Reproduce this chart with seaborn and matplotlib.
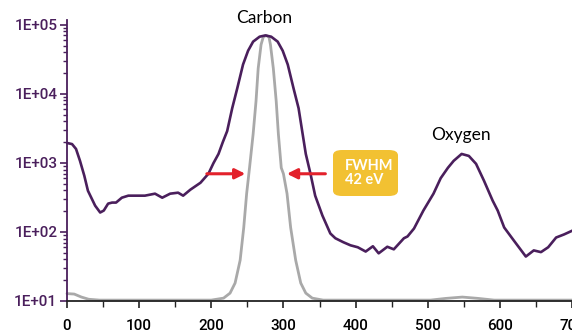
import numpy as np
import pandas as pd
import matplotlib
matplotlib.use("Agg")
import matplotlib.pyplot as plt
from matplotlib.patches import FancyBboxPatch
import seaborn as sns

# ---- data ----
purple_x = [0, 7, 12.5, 18, 24, 29, 39, 46, 51, 57, 62.5, 68, 76, 85, 94, 108, 122, 132,
            143, 154, 161, 171, 185, 196, 203, 210, 216, 222, 229, 236, 244, 251, 258,
            267, 275, 283, 292, 299, 306, 314, 321, 326, 331, 337.5, 344, 354, 365, 372,
            383, 393, 403, 414, 424, 432, 444, 453, 467, 472, 481, 494, 508, 518, 528,
            536, 547, 557, 567, 578, 590, 597, 606, 619, 636, 647, 657, 667, 678, 689, 701]
purple_y = [1940, 1870, 1590, 1070, 650, 395, 240, 191, 204, 257, 266, 266, 313, 335, 335,
            335, 358, 313, 358, 370, 335, 409, 515, 695, 990, 1346, 2000, 2880, 6180, 12000,
            26500, 42000, 56900, 67100, 70000, 67100, 56900, 42000, 26500, 12000, 6180, 2880,
            1346, 695, 335, 173, 95, 81, 71, 64, 60, 52, 62, 49, 61, 56, 81, 86, 112, 204,
            358, 600, 848, 1070, 1346, 1260, 968, 551, 284, 204, 116, 76, 44, 54, 51, 60, 83,
            92, 105]

gray_x = [0, 10, 20, 30, 45, 100, 200, 217, 226, 233, 240, 245, 249, 253, 258, 262, 265,
          269, 272, 276, 280, 282, 286, 290, 293, 297, 300, 305, 310, 317, 324, 331, 340,
          355, 450, 504, 525, 548, 570, 592, 700]
gray_y = [12.8, 12.6, 11.4, 10.6, 10.3, 10.3, 10.3, 11.0, 13.0, 18.2, 38.9, 116, 358, 848,
          2610, 7800, 23300, 51500, 66000, 70000, 66000, 51500, 23300, 7800, 2610, 848, 695,
          358, 116, 38.9, 18.2, 13.0, 11.0, 10.3, 10.3, 10.3, 10.9, 11.4, 10.9, 10.3, 10.3]

y_ticks = [10, 100, 1000, 10000, 100000]
y_tick_labels = ["1E+01", "1E+02", "1E+03", "1E+04", "1E+05"]
x_ticks = [0, 100, 200, 300, 400, 500, 600, 700]
peak_labels = ["Carbon", "Oxygen"]
peak_label_x = [274, 546]
peak_label_y = [1.25e5, 2.5e3]
fwhm_text = "FWHM\n42 eV"

PURPLE = "#4A1F5C"
GRAY = "#A9A9A9"
RED = "#E3212B"
YELLOW = "#F2C132"

sns.set_style("white")
plt.rcParams["font.family"] = ["Roboto", "DejaVu Sans"]

fig = plt.figure(figsize=(5.72, 3.32), dpi=100)
ax = fig.add_axes([67 / 572, 1 - 301 / 332, 1 - 67 / 572, (301 - 20) / 332])

df_p = pd.DataFrame({"x": purple_x, "y": purple_y})
df_g = pd.DataFrame({"x": gray_x, "y": gray_y})
sns.lineplot(data=df_g, x="x", y="y", ax=ax, color=GRAY, lw=2.0, clip_on=False, zorder=2)
sns.lineplot(data=df_p, x="x", y="y", ax=ax, color=PURPLE, lw=1.9, clip_on=False, zorder=3)
for ln in ax.lines:
    ln.set_solid_joinstyle("round")

ax.set_yscale("log")
ax.set_ylim(10, 1.17e5)
ax.set_xlim(0, 700)
ax.set_xlabel("")
ax.set_ylabel("")

ax.set_yticks(y_ticks)
ax.set_yticklabels(y_tick_labels)
ax.set_xticks(x_ticks)
ax.set_xticklabels([str(v) for v in x_ticks])
ax.xaxis.set_minor_locator(matplotlib.ticker.MultipleLocator(50))
ax.yaxis.set_minor_locator(matplotlib.ticker.LogLocator(base=10, subs=np.arange(2, 10)))
ax.yaxis.set_minor_formatter(matplotlib.ticker.NullFormatter())

for s in ["top", "right"]:
    ax.spines[s].set_visible(False)
ax.spines["left"].set_color(PURPLE)
ax.spines["left"].set_linewidth(1.3)
ax.spines["bottom"].set_color("#222222")
ax.spines["bottom"].set_linewidth(1.3)

ax.tick_params(axis="y", which="major", direction="out", length=5, width=1.2,
               color=PURPLE, labelcolor=PURPLE, labelsize=11, pad=2, left=True)
ax.tick_params(axis="y", which="minor", direction="out", length=3, width=1.0,
               color=PURPLE, left=True)
ax.tick_params(axis="x", which="major", direction="out", length=5, width=1.2,
               color="#222222", labelcolor="black", labelsize=11, pad=8, bottom=True)
ax.tick_params(axis="x", which="minor", direction="out", length=4, width=1.0,
               color="#222222", bottom=True)
for lab in ax.get_yticklabels() + ax.get_xticklabels():
    lab.set_fontweight("medium")

for t, xx, yy in zip(peak_labels, peak_label_x, peak_label_y):
    ax.text(xx, yy, t, ha="center", va="center", fontsize=12.5, color="black",
            family=["Lato", "DejaVu Sans"])

# FWHM arrows
ax.annotate("", xy=(251, 695), xytext=(190, 695),
            arrowprops=dict(arrowstyle="-|>,head_length=0.6,head_width=0.3", color=RED, lw=2.2),
            annotation_clip=False)
ax.annotate("", xy=(301, 695), xytext=(362, 695),
            arrowprops=dict(arrowstyle="-|>,head_length=0.6,head_width=0.3", color=RED, lw=2.2),
            annotation_clip=False)

# FWHM box
box = FancyBboxPatch((333 / 572, 1 - 196 / 332), (398 - 333) / 572, (196 - 150) / 332,
                     boxstyle="round,pad=0,rounding_size=0.016", transform=fig.transFigure,
                     facecolor=YELLOW, edgecolor="none", zorder=4)
fig.patches.append(box)
fig.text(345 / 572, 1 - 173 / 332, fwhm_text, ha="left", va="center", color="white",
         fontsize=10.5, fontweight="bold", linespacing=1.05, zorder=5,
         family=["Lato", "DejaVu Sans"])

fig.savefig("out.png", dpi=100)
